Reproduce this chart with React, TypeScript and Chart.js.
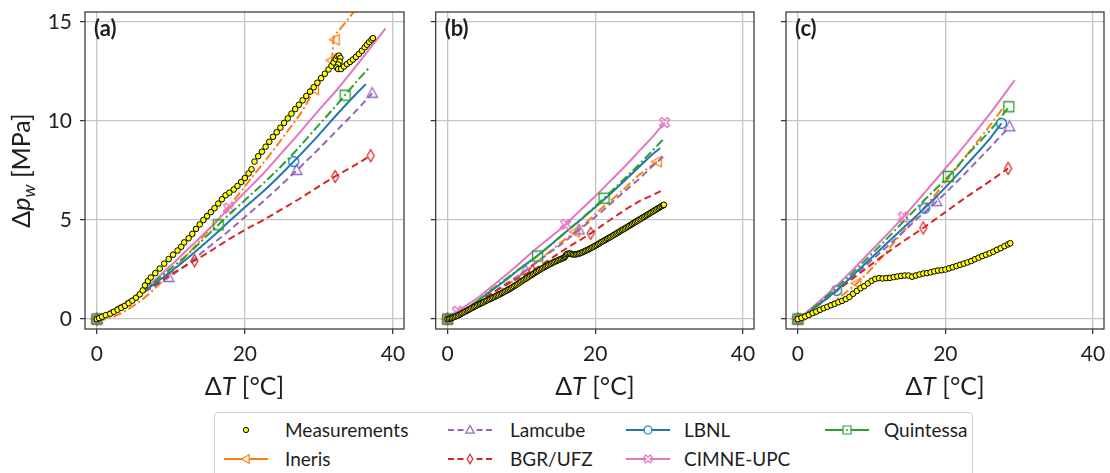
import React, { useEffect, useRef } from 'react';
import { Chart, registerables } from 'chart.js';

Chart.register(...registerables);

type Pt = [number, number];

// ---------- axes ----------
const X_MIN = -1.6;
const X_MAX = 41.5;
const Y_MIN = -0.5;
const Y_MAX = 15.5;
const X_TICKS = [0, 20, 40];
const Y_TICKS = [0, 5, 10, 15];
const PANEL_LABELS = ['(a)', '(b)', '(c)'];
const SERIES_NAMES = ['Measurements', 'Ineris', 'Lamcube', 'BGR/UFZ', 'LBNL', 'CIMNE-UPC', 'Quintessa'];

// ---------- panel (a) ----------
const measA: Pt[] = [
  [0, 0], [0.3, 0.05], [0.7, 0.12], [1.2, 0.2], [1.8, 0.27], [2.3, 0.37], [2.8, 0.47], [3.3, 0.57], [3.8, 0.67],
  [4.3, 0.8], [4.8, 0.93], [5.3, 1.08], [5.8, 1.25], [6.2, 1.45], [6.5, 1.7], [6.9, 1.92], [7.3, 2.1], [7.9, 2.32],
  [8.5, 2.55], [9.1, 2.8], [9.7, 3.03], [10.3, 3.25], [10.9, 3.46], [11.4, 3.65], [11.8, 3.87], [12.4, 4.08],
  [12.9, 4.3], [13.4, 4.55], [13.9, 4.78], [14.4, 5.0], [14.9, 5.2], [15.4, 5.4], [15.9, 5.6], [16.4, 5.83],
  [16.9, 6.05], [17.4, 6.25], [17.9, 6.38], [18.5, 6.54], [19.0, 6.72], [19.5, 6.92], [20.0, 7.12], [20.5, 7.35],
  [20.9, 7.56], [21.3, 7.95], [21.8, 8.22], [22.3, 8.45], [22.8, 8.7], [23.3, 8.95], [23.8, 9.2], [24.3, 9.43],
  [24.8, 9.66], [25.3, 9.9], [25.8, 10.13], [26.3, 10.37], [26.8, 10.6], [27.3, 10.82], [27.8, 11.04],
  [28.3, 11.26], [28.8, 11.48], [29.3, 11.7], [29.8, 11.93], [30.3, 12.16], [30.8, 12.38], [31.3, 12.6],
  [31.7, 12.78], [32.0, 12.95], [32.3, 13.12], [32.5, 13.26], [32.7, 13.3], [32.9, 13.18], [32.8, 13.0],
  [32.6, 12.85], [32.4, 12.7], [32.6, 12.62], [33.0, 12.62], [33.4, 12.75], [33.8, 12.87], [34.2, 12.98],
  [34.6, 13.1], [35.0, 13.23], [35.4, 13.38], [35.8, 13.54], [36.2, 13.72], [36.5, 13.85], [36.8, 13.98],
  [37.1, 14.1], [37.3, 14.18],
];
const inerisA: Pt[] = [
  [0, -0.1], [2, 0.08], [4, 0.45], [6, 0.95], [8, 1.6], [10, 2.35], [12, 3.15], [14, 4.0], [16, 4.85], [18, 5.75],
  [20, 6.7], [22, 7.65], [24, 8.6], [26, 9.6], [28, 10.65], [29.4, 11.6], [30.5, 12.3], [31.75, 13.07], [32.0, 14.2],
  [32.4, 14.45], [34.5, 15.4], [36, 16.1],
];
const inerisAMarks: Pt[] = [[0, 0], [29.4, 11.6], [31.75, 13.07], [32.2, 14.1]];
const lamcubeA: Pt[] = [
  [0, 0], [2.5, 0.5], [5, 1.05], [7.5, 1.6], [9.7, 2.1], [12.5, 2.85], [15, 3.6], [17.5, 4.35], [20, 5.15],
  [22.5, 5.95], [25, 6.8], [27, 7.5], [30, 8.6], [32.5, 9.55], [35, 10.5], [37.2, 11.4],
];
const lamcubeAMarks: Pt[] = [[0, 0], [9.7, 2.1], [27, 7.5], [37.2, 11.4]];
const bgrA: Pt[] = [
  [0, 0], [2.5, 0.55], [5, 1.1], [7.5, 1.65], [10, 2.25], [13.2, 2.95], [15, 3.35], [17.5, 3.95], [20, 4.5],
  [22.5, 5.0], [25, 5.55], [27.5, 6.1], [30, 6.7], [32.2, 7.2], [35, 7.8], [37, 8.25],
];
const bgrAMarks: Pt[] = [[0, 0], [13.2, 2.95], [32.2, 7.2], [37, 8.25]];
const lbnlA: Pt[] = [
  [0, 0], [2.5, 0.5], [5, 1.05], [7.5, 1.7], [10, 2.4], [12.5, 3.15], [15, 3.95], [17.5, 4.8], [20, 5.65],
  [22.5, 6.45], [25, 7.35], [27.5, 8.3], [30, 9.3], [32.5, 10.35], [35, 11.35], [36.35, 11.85],
];
const lbnlAMarks: Pt[] = [[0, 0], [26.6, 7.95]];
const cimneA: Pt[] = [
  [0, 0], [2.5, 0.5], [5, 1.1], [7.5, 1.85], [10, 2.7], [12.5, 3.6], [15, 4.5], [17.5, 5.45], [20, 6.4],
  [22.5, 7.35], [25, 8.4], [27.5, 9.45], [30, 10.55], [32.5, 11.6], [35, 12.75], [37.5, 13.95], [39, 14.67],
];
const cimneAMarks: Pt[] = [[0, 0], [17.8, 5.6]];
const quintessaA: Pt[] = [
  [0, 0], [2.5, 0.5], [5, 1.1], [7.5, 1.8], [10, 2.55], [12.5, 3.35], [15, 4.25], [17.5, 5.15], [20, 6.0],
  [22.5, 6.85], [25, 7.75], [27.5, 8.75], [30, 9.8], [32.5, 10.85], [35, 11.95], [36.7, 12.65],
];
const quintessaAMarks: Pt[] = [[0, 0], [16.4, 4.76], [33.55, 11.3]];

// ---------- panel (b) ----------
const measB: Pt[] = [
  [0, 0], [0.2, 0.02], [0.4, 0.04], [0.6, 0.06], [0.8, 0.09], [1.0, 0.12], [1.2, 0.15], [1.4, 0.18], [1.6, 0.22],
  [1.8, 0.26], [2.0, 0.3], [2.2, 0.34], [2.4, 0.38], [2.6, 0.42], [2.8, 0.46], [3.0, 0.5], [3.2, 0.54], [3.4, 0.58],
  [3.6, 0.62], [3.8, 0.66], [4.0, 0.7], [4.2, 0.74], [4.4, 0.77], [4.6, 0.81], [4.8, 0.84], [5.0, 0.88],
  [5.2, 0.92], [5.4, 0.95], [5.6, 0.99], [5.8, 1.02], [6.0, 1.06], [6.2, 1.1], [6.4, 1.13], [6.6, 1.17],
  [6.8, 1.2], [7.0, 1.24], [7.2, 1.28], [7.4, 1.32], [7.6, 1.36], [7.8, 1.4], [8.0, 1.44], [8.2, 1.48],
  [8.4, 1.52], [8.6, 1.56], [8.8, 1.61], [9.0, 1.66], [9.2, 1.71], [9.4, 1.75], [9.6, 1.8], [9.8, 1.85],
  [10.0, 1.9], [10.2, 1.95], [10.4, 2.0], [10.6, 2.04], [10.8, 2.09], [11.0, 2.14], [11.2, 2.19], [11.4, 2.23],
  [11.6, 2.28], [11.8, 2.33], [12.0, 2.38], [12.2, 2.42], [12.4, 2.47], [12.6, 2.52], [12.8, 2.56], [13.0, 2.6],
  [13.2, 2.64], [13.4, 2.68], [13.6, 2.72], [13.8, 2.76], [14.0, 2.8], [14.2, 2.84], [14.4, 2.87], [14.6, 2.91],
  [14.8, 2.94], [15.0, 2.98], [15.2, 3.01], [15.4, 3.04], [15.6, 3.07], [15.8, 3.1], [15.9, 3.14], [16.0, 3.2],
  [16.1, 3.26], [16.2, 3.29], [16.4, 3.31], [16.6, 3.31], [16.8, 3.28], [17.0, 3.26], [17.2, 3.26], [17.4, 3.27],
  [17.6, 3.29], [17.8, 3.31], [18.0, 3.33], [18.2, 3.36], [18.4, 3.4], [18.6, 3.43], [18.8, 3.47], [19.0, 3.5],
  [19.2, 3.54], [19.4, 3.58], [19.6, 3.62], [19.8, 3.66], [20.0, 3.7], [20.2, 3.74], [20.4, 3.79], [20.6, 3.83],
  [20.8, 3.88], [21.0, 3.92], [21.2, 3.96], [21.4, 4.0], [21.6, 4.05], [21.8, 4.09], [22.0, 4.13], [22.2, 4.17],
  [22.4, 4.22], [22.6, 4.26], [22.8, 4.31], [23.0, 4.35], [23.2, 4.4], [23.4, 4.44], [23.6, 4.49], [23.8, 4.53],
  [24.0, 4.57], [24.2, 4.62], [24.4, 4.66], [24.6, 4.71], [24.8, 4.75], [25.0, 4.8], [25.2, 4.85], [25.4, 4.89],
  [25.6, 4.94], [25.8, 4.98], [26.0, 5.03], [26.2, 5.07], [26.4, 5.12], [26.6, 5.16], [26.8, 5.21], [27.0, 5.25],
  [27.2, 5.3], [27.4, 5.34], [27.6, 5.39], [27.8, 5.43], [28.0, 5.48], [28.2, 5.52], [28.4, 5.57], [28.6, 5.61],
  [28.8, 5.66], [29.0, 5.7], [29.2, 5.74], [29.3, 5.77],
];
const inerisB: Pt[] = [
  [0, -0.1], [2, 0.2], [4, 0.65], [6, 1.15], [8, 1.7], [10, 2.25], [12, 2.85], [14, 3.45], [16, 4.05], [18, 4.6],
  [20, 5.3], [22, 5.95], [24, 6.6], [26, 7.3], [28.4, 7.95],
];
const inerisBMarks: Pt[] = [[0, 0], [17.3, 4.4], [28.4, 7.95]];
const lamcubeB: Pt[] = [
  [0, 0], [2, 0.35], [4, 0.8], [6, 1.3], [8, 1.8], [10.6, 2.45], [12, 2.85], [14, 3.4], [16, 3.95], [17.8, 4.5],
  [20, 5.15], [22, 5.8], [24, 6.45], [26, 7.1], [28, 7.8], [29.2, 8.2],
];
const lamcubeBMarks: Pt[] = [[0, 0], [10.6, 2.45], [17.8, 4.5]];
const bgrB: Pt[] = [
  [0, 0], [2, 0.4], [4, 0.85], [6, 1.3], [8, 1.75], [10, 2.15], [11.5, 2.45], [14, 3.05], [16, 3.55], [18, 4.0],
  [19.4, 4.33], [22, 5.0], [24, 5.5], [26, 5.95], [28, 6.3], [29.2, 6.52],
];
const bgrBMarks: Pt[] = [[0, 0], [11.5, 2.45], [19.4, 4.33]];
const lbnlB: Pt[] = [
  [0, 0], [2, 0.4], [4, 0.9], [6, 1.45], [8, 2.0], [10, 2.6], [12, 3.15], [14, 3.75], [16, 4.4], [18, 5.0],
  [20, 5.65], [22, 6.3], [24, 7.0], [26, 7.7], [28, 8.4], [28.8, 8.62],
];
const lbnlBMarks: Pt[] = [[0, 0]];
const cimneB: Pt[] = [
  [0, 0], [1.35, 0.39], [4, 1.05], [6, 1.65], [8, 2.25], [10, 2.9], [12, 3.55], [14, 4.15], [16, 4.78], [18, 5.5],
  [20, 6.2], [22, 6.95], [24, 7.7], [26, 8.5], [28, 9.3], [29.4, 9.92],
];
const cimneBMarks: Pt[] = [[0, 0], [1.35, 0.39], [16, 4.78], [29.4, 9.92]];
const quintessaB: Pt[] = [
  [0, 0], [2, 0.4], [4, 0.9], [6, 1.5], [8, 2.05], [10, 2.6], [12.2, 3.2], [14, 3.75], [16, 4.38], [18, 5.02],
  [21.2, 6.1], [24, 7.1], [26, 7.82], [28, 8.6], [29.2, 9.07],
];
const quintessaBMarks: Pt[] = [[0, 0], [12.2, 3.18], [21.2, 6.1]];

// ---------- panel (c) ----------
const measC: Pt[] = [
  [0, 0], [0.5, 0.06], [1, 0.13], [1.5, 0.21], [2, 0.3], [2.5, 0.38], [3, 0.47], [3.5, 0.55], [4, 0.62],
  [4.5, 0.7], [5, 0.77], [5.5, 0.85], [6, 0.92], [6.5, 1.01], [7, 1.12], [7.5, 1.28], [8, 1.42], [8.5, 1.56],
  [9, 1.66], [9.5, 1.8], [10, 1.93], [10.5, 2.03], [11, 2.07], [11.5, 2.05], [12, 2.07], [12.5, 2.08],
  [13, 2.12], [13.5, 2.15], [14, 2.18], [14.5, 2.2], [15, 2.2], [15.5, 2.14], [16, 2.2], [16.5, 2.25],
  [17, 2.3], [17.5, 2.32], [18, 2.36], [18.5, 2.41], [19, 2.45], [19.5, 2.47], [20, 2.5], [20.5, 2.56],
  [21, 2.62], [21.5, 2.68], [22, 2.74], [22.5, 2.8], [23, 2.86], [23.5, 2.93], [24, 3.02], [24.5, 3.1],
  [25, 3.18], [25.5, 3.25], [26, 3.32], [26.5, 3.4], [27, 3.5], [27.5, 3.58], [28, 3.68], [28.5, 3.77],
  [28.8, 3.83],
];
const inerisC: Pt[] = [
  [0, -0.15], [2, 0.15], [4, 0.65], [6, 1.2], [8, 1.81], [10, 2.55], [12, 3.4], [14, 4.3], [16, 5.15], [18, 6.0],
  [20, 6.9], [22, 7.85], [24, 8.8], [26, 9.75], [28, 10.75],
];
const inerisCMarks: Pt[] = [[0, 0], [8, 1.81]];
const lamcubeC: Pt[] = [
  [0, 0], [2, 0.5], [5, 1.35], [8, 2.3], [11, 3.3], [14, 4.3], [16, 5.0], [18.8, 5.93], [22, 7.1], [25, 8.25],
  [28.7, 9.71],
];
const lamcubeCMarks: Pt[] = [[0, 0], [18.8, 5.93], [28.7, 9.71]];
const bgrC: Pt[] = [
  [0, 0], [2, 0.5], [5, 1.35], [8, 2.2], [11, 3.05], [14, 3.85], [17, 4.6], [20, 5.4], [23, 6.2], [26, 6.95],
  [28.5, 7.61],
];
const bgrCMarks: Pt[] = [[0, 0], [17, 4.6], [28.5, 7.61]];
const lbnlC: Pt[] = [
  [0, 0], [2, 0.5], [5.27, 1.45], [8, 2.4], [11, 3.45], [14, 4.5], [17.2, 5.6], [20, 6.65], [23, 7.85], [26, 9.1],
  [27.6, 9.88],
];
const lbnlCMarks: Pt[] = [[0, 0], [5.27, 1.45], [17.2, 5.6], [27.6, 9.88]];
const cimneC: Pt[] = [
  [0, 0], [2, 0.6], [5, 1.6], [8, 2.7], [11, 3.85], [14.3, 5.15], [17, 6.3], [20, 7.6], [23, 8.95], [26, 10.35],
  [29.4, 12.06],
];
const cimneCMarks: Pt[] = [[0, 0], [14.3, 5.15]];
const quintessaC: Pt[] = [
  [0, 0], [2, 0.55], [5, 1.5], [8, 2.55], [11, 3.65], [14, 4.8], [17, 5.95], [20.4, 7.2], [23, 8.3], [26, 9.5],
  [28.6, 10.7],
];
const quintessaCMarks: Pt[] = [[0, 0], [20.4, 7.2], [28.6, 10.72]];

// ---------- styling ----------
const FONT = 'Lato, "Open Sans", "DejaVu Sans", sans-serif';
const TEXT = '#1e1e1e';
const GRID = '#c6c6c6';
const SPINE = '#2e2e2e';
const MEAS_FILL = '#ffff00';

type MarkerKind = 'triLeft' | 'triUp' | 'thinDiamond' | 'circle' | 'xFilled' | 'square';
interface SeriesStyle { color: string; dash: number[]; marker: MarkerKind; legendDot?: boolean }
const STYLES: Record<string, SeriesStyle> = {
  Ineris: { color: '#ff7f0e', dash: [9, 3, 2, 3], marker: 'triLeft' },
  Lamcube: { color: '#9467bd', dash: [7, 4], marker: 'triUp' },
  'BGR/UFZ': { color: '#d62728', dash: [7, 4], marker: 'thinDiamond' },
  LBNL: { color: '#1f77b4', dash: [], marker: 'circle' },
  'CIMNE-UPC': { color: '#e377c2', dash: [], marker: 'xFilled' },
  Quintessa: { color: '#2ca02c', dash: [9, 3, 2, 3], marker: 'square', legendDot: true },
};

interface PanelData {
  label: string;
  meas: Pt[];
  lines: Record<string, Pt[]>;
  marks: Record<string, Pt[]>;
}
const PANELS: PanelData[] = [
  {
    label: PANEL_LABELS[0], meas: measA,
    lines: { Ineris: inerisA, Lamcube: lamcubeA, 'BGR/UFZ': bgrA, LBNL: lbnlA, 'CIMNE-UPC': cimneA, Quintessa: quintessaA },
    marks: { Ineris: inerisAMarks, Lamcube: lamcubeAMarks, 'BGR/UFZ': bgrAMarks, LBNL: lbnlAMarks, 'CIMNE-UPC': cimneAMarks, Quintessa: quintessaAMarks },
  },
  {
    label: PANEL_LABELS[1], meas: measB,
    lines: { Ineris: inerisB, Lamcube: lamcubeB, 'BGR/UFZ': bgrB, LBNL: lbnlB, 'CIMNE-UPC': cimneB, Quintessa: quintessaB },
    marks: { Ineris: inerisBMarks, Lamcube: lamcubeBMarks, 'BGR/UFZ': bgrBMarks, LBNL: lbnlBMarks, 'CIMNE-UPC': cimneBMarks, Quintessa: quintessaBMarks },
  },
  {
    label: PANEL_LABELS[2], meas: measC,
    lines: { Ineris: inerisC, Lamcube: lamcubeC, 'BGR/UFZ': bgrC, LBNL: lbnlC, 'CIMNE-UPC': cimneC, Quintessa: quintessaC },
    marks: { Ineris: inerisCMarks, Lamcube: lamcubeCMarks, 'BGR/UFZ': bgrCMarks, LBNL: lbnlCMarks, 'CIMNE-UPC': cimneCMarks, Quintessa: quintessaCMarks },
  },
];

// ---------- marker geometry ----------
function markerPoly(kind: MarkerKind, s: number): Pt[] {
  switch (kind) {
    case 'square': return [[-s, -s], [s, -s], [s, s], [-s, s]];
    case 'triUp': return [[0, -s * 1.15], [s * 1.05, s * 0.8], [-s * 1.05, s * 0.8]];
    case 'triLeft': return [[-s * 1.15, 0], [s * 0.8, -s * 1.05], [s * 0.8, s * 1.05]];
    case 'thinDiamond': return [[0, -s * 1.2], [s * 0.7, 0], [0, s * 1.2], [-s * 0.7, 0]];
    case 'xFilled': {
      const k = s * 0.45;
      return [[-s, -s + k], [-s + k, -s], [0, -k], [s - k, -s], [s, -s + k], [k, 0], [s, s - k], [s - k, s], [0, k], [-s + k, s], [-s, s - k], [-k, 0]];
    }
    default: return [];
  }
}

function makeMarker(kind: MarkerKind, color: string, s: number): HTMLCanvasElement {
  const size = Math.ceil(s * 2.6 + 4);
  const c = document.createElement('canvas');
  c.width = size; c.height = size;
  const ctx = c.getContext('2d')!;
  ctx.translate(size / 2, size / 2);
  ctx.strokeStyle = color;
  ctx.lineWidth = 1.3;
  ctx.beginPath();
  if (kind === 'circle') {
    ctx.arc(0, 0, s, 0, Math.PI * 2);
  } else {
    const p = markerPoly(kind, s);
    ctx.moveTo(p[0][0], p[0][1]);
    for (let i = 1; i < p.length; i++) ctx.lineTo(p[i][0], p[i][1]);
    ctx.closePath();
  }
  ctx.stroke();
  return c;
}

// ---------- text helper ----------
interface Run { t: string; size: number; italic?: boolean; bold?: boolean; dy?: number }
function drawRuns(ctx: CanvasRenderingContext2D, runs: Run[], x: number, y: number, rot: number) {
  ctx.save();
  ctx.translate(x, y);
  ctx.rotate(rot);
  const fontOf = (r: Run) => `${r.italic ? 'italic ' : ''}${r.bold ? 'bold ' : ''}${r.size}px ${FONT}`;
  let total = 0;
  for (const r of runs) { ctx.font = fontOf(r); total += ctx.measureText(r.t).width; }
  let cx = -total / 2;
  ctx.textAlign = 'left';
  ctx.textBaseline = 'alphabetic';
  ctx.fillStyle = TEXT;
  for (const r of runs) {
    ctx.font = fontOf(r);
    ctx.fillText(r.t, cx, r.dy ?? 0);
    cx += ctx.measureText(r.t).width;
  }
  ctx.restore();
}

// ---------- panel ----------
const CANVAS_H = 400;
const PLOT_TOP = 12;
const PLOT_BOTTOM = 329;

interface PanelProps { data: PanelData; left: number; width: number; yAxisW: number; rightPad: number; showY: boolean }

function Panel({ data, left, width, yAxisW, rightPad, showY }: PanelProps) {
  const ref = useRef<HTMLCanvasElement>(null);
  useEffect(() => {
    const canvas = ref.current!;
    const toXY = (pts: Pt[]) => pts.map(([x, y]) => ({ x, y }));
    const datasets: any[] = [];
    datasets.push({
      label: SERIES_NAMES[0],
      data: toXY(data.meas),
      showLine: false,
      pointRadius: 2.8,
      pointBackgroundColor: MEAS_FILL,
      pointBorderColor: '#000',
      pointBorderWidth: 1,
    });
    const order = ['Quintessa', 'CIMNE-UPC', 'LBNL', 'BGR/UFZ', 'Lamcube', 'Ineris'];
    for (const name of order) {
      const st = STYLES[name];
      datasets.push({
        label: name + ' markers',
        data: toXY(data.marks[name]),
        showLine: false,
        pointRadius: 5,
        pointStyle: makeMarker(st.marker, st.color, 5),
      });
      datasets.push({
        label: name,
        data: toXY(data.lines[name]),
        showLine: true,
        borderColor: st.color,
        borderWidth: 2,
        borderDash: st.dash,
        pointRadius: 0,
        tension: 0.4,
        cubicInterpolationMode: 'monotone',
        fill: false,
      });
    }

    const decor = {
      id: 'decor',
      afterDraw(chart: any) {
        const { ctx, chartArea: a } = chart;
        ctx.save();
        ctx.strokeStyle = SPINE;
        ctx.lineWidth = 1.2;
        ctx.strokeRect(a.left, a.top, a.right - a.left, a.bottom - a.top);
        ctx.fillStyle = TEXT;
        ctx.font = `bold 22px ${FONT}`;
        ctx.textAlign = 'left';
        ctx.textBaseline = 'alphabetic';
        ctx.fillText(data.label, a.left + 9, a.top + 24);
        ctx.restore();
        drawRuns(ctx, [
          { t: 'Δ', size: 25 },
          { t: 'T', size: 25, italic: true },
          { t: ' [°C]', size: 25 },
        ], (a.left + a.right) / 2, 395, 0);
        if (showY) {
          drawRuns(ctx, [
            { t: 'Δ', size: 25 },
            { t: 'p', size: 25, italic: true },
            { t: 'w', size: 18, italic: true, dy: 5 },
            { t: ' [MPa]', size: 25 },
          ], 30, (a.top + a.bottom) / 2, -Math.PI / 2);
        }
      },
    };

    const chart = new Chart(canvas, {
      type: 'scatter',
      data: { datasets },
      plugins: [decor],
      options: {
        animation: false,
        responsive: false,
        devicePixelRatio: 1,
        layout: { padding: { left: 0, top: PLOT_TOP, right: rightPad, bottom: 0 } },
        plugins: { legend: { display: false }, tooltip: { enabled: false } },
        scales: {
          x: {
            type: 'linear',
            min: X_MIN,
            max: X_MAX,
            afterBuildTicks: (s: any) => { s.ticks = X_TICKS.map((v) => ({ value: v })); },
            afterFit: (s: any) => {
              s.height = CANVAS_H - PLOT_BOTTOM;
              s.paddingLeft = 0; s.paddingRight = 0; s.paddingTop = 0; s.paddingBottom = 0;
            },
            grid: { color: GRID, lineWidth: 1.3, tickColor: SPINE, tickLength: 5, tickWidth: 1.2, drawTicks: true },
            border: { display: false },
            ticks: { font: { size: 21, family: FONT }, color: TEXT, padding: 8, maxRotation: 0, autoSkip: false },
          },
          y: {
            type: 'linear',
            min: Y_MIN,
            max: Y_MAX,
            afterBuildTicks: (s: any) => { s.ticks = Y_TICKS.map((v) => ({ value: v })); },
            afterFit: (s: any) => {
              s.width = yAxisW;
              s.paddingLeft = 0; s.paddingRight = 0; s.paddingTop = 0; s.paddingBottom = 0;
            },
            grid: { color: GRID, lineWidth: 1.3, tickColor: SPINE, tickLength: 5, tickWidth: 1.2, drawTicks: true },
            border: { display: false },
            ticks: { display: showY, font: { size: 21, family: FONT }, color: TEXT, padding: 8 },
          },
        },
      } as any,
    });
    return () => chart.destroy();
  }, []);
  return (
    <canvas
      ref={ref}
      width={width}
      height={CANVAS_H}
      style={{ position: 'absolute', left, top: 0, width, height: CANVAS_H }}
    />
  );
}

// ---------- legend ----------
function svgPoly(kind: MarkerKind, s: number, cx: number, cy: number) {
  return markerPoly(kind, s).map(([x, y]) => `${(cx + x).toFixed(2)},${(cy + y).toFixed(2)}`).join(' ');
}

function LegendHandle({ name }: { name: string }) {
  const W = 44, H = 20, cx = 22, cy = 10;
  if (name === SERIES_NAMES[0]) {
    return (
      <svg width={W} height={H} style={{ display: 'block' }}>
        <circle cx={cx} cy={cy} r={2.6} fill={MEAS_FILL} stroke="#000" strokeWidth={1} />
      </svg>
    );
  }
  const st = STYLES[name];
  const dashed = st.dash.length === 2;
  const s = 4;
  return (
    <svg width={W} height={H} style={{ display: 'block' }}>
      <line x1={0} y1={cy} x2={W} y2={cy} stroke={st.color} strokeWidth={2} strokeDasharray={dashed ? '6 3.5' : undefined} />
      {st.marker === 'circle' ? (
        <circle cx={cx} cy={cy} r={s} fill="white" stroke={st.color} strokeWidth={1.2} />
      ) : (
        <polygon points={svgPoly(st.marker, s, cx, cy)} fill="white" stroke={st.color} strokeWidth={1.2} />
      )}
      {st.legendDot ? <circle cx={cx} cy={cy} r={1} fill={st.color} /> : null}
    </svg>
  );
}

const LEGEND_HANDLE_X = [9, 233, 411, 610];
const LEGEND_TEXT_X = [70, 295, 469, 669];
const LEGEND_ROW_Y = [17, 46];

function Legend() {
  return (
    <div
      style={{
        position: 'absolute', left: 214, top: 412, width: 759, height: 80,
        border: '1px solid #cfcfcf', borderRadius: 4, boxSizing: 'border-box', background: '#fff',
      }}
    >
      {SERIES_NAMES.map((name, i) => {
        const col = Math.floor(i / 2);
        const row = i % 2;
        const cy = LEGEND_ROW_Y[row];
        return (
          <React.Fragment key={name}>
            <div style={{ position: 'absolute', left: LEGEND_HANDLE_X[col], top: cy - 10 }}>
              <LegendHandle name={name} />
            </div>
            <div
              style={{
                position: 'absolute', left: LEGEND_TEXT_X[col], top: cy - 12, height: 24, lineHeight: '24px',
                fontFamily: FONT, fontSize: 19, color: TEXT, whiteSpace: 'nowrap',
              }}
            >
              {name}
            </div>
          </React.Fragment>
        );
      })}
    </div>
  );
}

export default function App() {
  return (
    <div style={{ position: 'absolute', left: 0, top: 0, width: 1110, height: 473, overflow: 'hidden', background: '#fff' }}>
      <Panel data={PANELS[0]} left={0} width={420} yAxisW={85} rightPad={16} showY={true} />
      <Panel data={PANELS[1]} left={420} width={350} yAxisW={15.7} rightPad={16} showY={false} />
      <Panel data={PANELS[2]} left={770} width={350} yAxisW={16} rightPad={16} showY={false} />
      <Legend />
    </div>
  );
}
